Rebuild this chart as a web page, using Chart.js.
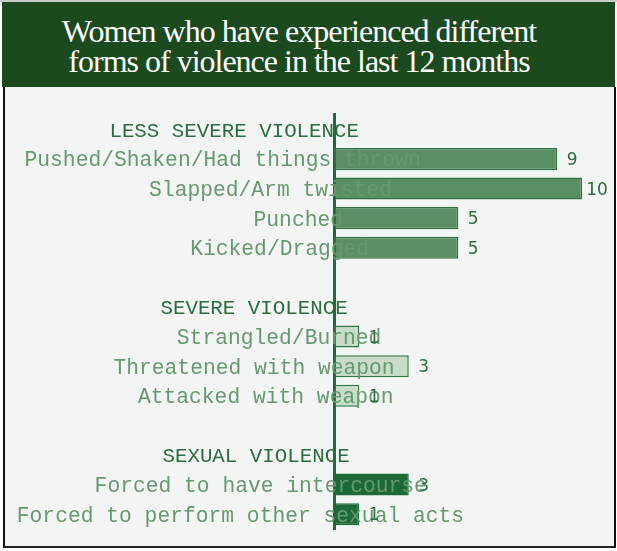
<!DOCTYPE html>
<html>
<head>
<meta charset="utf-8">
<script src="https://cdn.jsdelivr.net/npm/chart.js@4.4.1/dist/chart.umd.min.js"></script>
<style>
  html, body { margin: 0; padding: 0; background: #ffffff; }
  #page { position: relative; width: 617px; height: 551px; overflow: hidden; }
  #topline { position: absolute; left: 0; top: 0; width: 617px; height: 2px; background: #c9cbc9; }
  #band { position: absolute; left: 2px; top: 2px; width: 613px; height: 85px; background: #1b4a1f; }
  #title {
    position: absolute; left: 0; top: 16px; width: 598px;
    text-align: center; color: #ffffff;
    font-family: "Liberation Serif", "Times New Roman", serif;
    font-size: 32px; line-height: 30px; letter-spacing: -1px;
  }
  #panel {
    position: absolute; left: 3px; top: 87px; width: 609px; height: 459px;
    background: #f3f5f4;
    border-left: 2px solid #111; border-right: 2px solid #111; border-bottom: 2px solid #222;
  }
  #chart { position: absolute; left: 0; top: 0; }
</style>
</head>
<body>
<div id="page">
  <div id="topline"></div>
  <div id="band"></div>
  <div id="title">Women who have experienced different<br>forms of violence in the last 12 months</div>
  <div id="panel"></div>
  <canvas id="chart" width="617" height="551"></canvas>
</div>
<script>
(function () {
    const groupNames = ['LESS SEVERE VIOLENCE', 'SEVERE VIOLENCE', 'SEXUAL VIOLENCE'];

    const lessSevere = ['Pushed/Shaken/Had things thrown', 'Slapped/Arm twisted', 'Punched', 'Kicked/Dragged'];
    const lessSevereValues = [9, 10, 5, 5];

    const severe = ['Strangled/Burned', 'Threatened with weapon', 'Attacked with weapon'];
    const severeValues = [1, 3, 1];

    const sexual = ['Forced to have intercourse', 'Forced to perform other sexual acts'];
    const sexualValues = [3, 1];

    const groupFill = ['#5b8e64', '#c9dbc9', '#1c6a38'];
    const groupBorder = ['#2e7342', '#2f7846', '#1c6a38'];

    // one row per header, item and spacer; bars only on item rows
    const groups = [
        [lessSevere, lessSevereValues],
        [severe, severeValues],
        [sexual, sexualValues],
    ];
    const rows = [];
    groups.forEach(function (g, gi) {
        if (gi > 0) rows.push({ kind: 'blank', text: '', value: null, group: gi });
        rows.push({ kind: 'header', text: groupNames[gi], value: null, group: gi });
        g[0].forEach(function (name, i) {
            rows.push({ kind: 'item', text: name, value: g[1][i], group: gi });
        });
    });

    const labelColor = '#67996f';
    const headerColor = '#2c6c3f';
    const valueColor = '#2a6e40';

    const rowText = {
        id: 'rowText',
        afterDatasetsDraw(chart) {
            const ctx = chart.ctx;
            const x = chart.scales.x;
            const y = chart.scales.y;
            const anchor = x.getPixelForValue(0) - 2;
            ctx.save();
            rows.forEach(function (r, i) {
                const cy = y.getPixelForValue(i);
                if (r.kind === 'blank') return;
                // labels are laid out by a proportional measure, drawn in a mono face
                ctx.font = r.kind === 'header' ? '18px "Liberation Sans"' : '20px "Liberation Sans"';
                const w = ctx.measureText(r.text).width;
                const start = anchor - w - (r.kind === 'header' ? 3 : 0);
                ctx.font = r.kind === 'header' ? '20.8px "Liberation Mono"' : '21.3px "Liberation Mono"';
                ctx.fillStyle = r.kind === 'header' ? headerColor : labelColor;
                ctx.textAlign = 'left';
                ctx.textBaseline = 'alphabetic';
                ctx.fillText(r.text, start, cy + 7.5);

                if (r.kind === 'item') {
                    ctx.font = '17px "DejaVu Sans"';
                    ctx.fillStyle = valueColor;
                    ctx.textAlign = 'center';
                    ctx.fillText(String(r.value), x.getPixelForValue(r.value) + 15, cy + 6);
                }
            });
            ctx.restore();
        }
    };

    const chart = document.getElementById('chart');
    const data = {
        labels: rows.map(function (r) { return r.text; }),
        datasets: [{
            data: rows.map(function (r) { return r.value; }),
            backgroundColor: rows.map(function (r) { return groupFill[r.group]; }),
            borderColor: rows.map(function (r) { return groupBorder[r.group]; }),
            borderWidth: 1.5,
            borderSkipped: false,
            categoryPercentage: 1,
            barPercentage: 0.745,
        }]
    };

    const config = {
        type: 'bar',
        data: data,
        options: {
            indexAxis: 'y',
            responsive: false,
            animation: false,
            layout: {
                padding: { left: 326.5, right: 35, top: 114.5, bottom: 22 }
            },
            scales: {
                x: {
                    min: 0,
                    max: 10,
                    display: false,
                },
                y: {
                    ticks: { display: false },
                    grid: { display: false },
                    border: { display: true, color: '#1d6b38', width: 3 },
                }
            },
            plugins: {
                legend: { display: false },
                tooltip: { enabled: false },
            }
        },
        plugins: [rowText]
    };

    new Chart(chart, config);
})();
</script>
</body>
</html>
